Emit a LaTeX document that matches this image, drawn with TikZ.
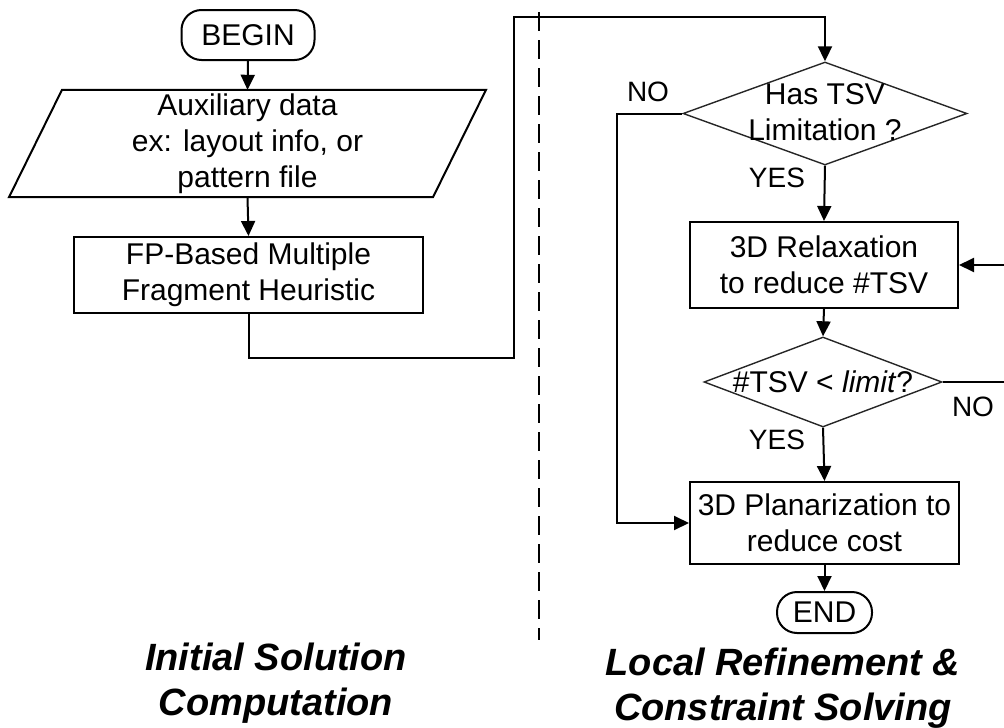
\documentclass[tikz,border=0pt]{standalone}
\usepackage{fontspec}
\setmainfont{Liberation Sans}
\usetikzlibrary{arrows.meta,shapes.geometric}

\tikzset{
  flow/.style={line width=2pt, draw=black},
  arrow/.style={flow, -{Triangle[length=15pt,width=14pt]}},
  txt/.style={font=\fontsize{30}{36}\selectfont, align=center, inner sep=0pt},
  tag/.style={font=\fontsize{28}{32}\selectfont, inner sep=0pt},
  procbox/.style={rectangle, flow, txt},
  terminal/.style={rectangle, rounded corners=20pt, flow, txt},
  decision/.style={diamond, line width=1.4pt, draw=black!85, inner sep=0pt},
  title/.style={font=\fontsize{38}{45}\selectfont\bfseries\itshape, align=center, inner sep=0pt},
  divider/.style={line width=2pt, dash pattern=on 19pt off 9pt}
}

\begin{document}
\begin{tikzpicture}[x=1pt, y=-1pt]
\useasboundingbox (0,0) rectangle (1004,728);

% ---- left column: initial solution ----
\node[terminal, minimum width=133pt, minimum height=50pt] (begin) at (248,35) {BEGIN};

\node[txt, minimum width=424pt, minimum height=107pt] (aux) at (247.5,143.5)
  {Auxiliary data\\ex: layout info, or\\pattern file};
\draw[flow] ([xshift=-238.5pt]aux.south) -- ([xshift=-185.5pt]aux.north)
  -- ([xshift=238.5pt]aux.north) -- ([xshift=185.5pt]aux.south) -- cycle;

\node[procbox, minimum width=349pt, minimum height=76pt] (fp) at (248.5,275)
  {FP-Based Multiple\\Fragment Heuristic};

% ---- separator between the two phases ----
\coordinate (divtop) at (539,12);
\coordinate (divbot) at (539,640);
\draw[divider] (divtop) -- (divbot);

% ---- right column: refinement ----
\node[decision, minimum width=284pt, minimum height=103pt] (d1) at (825,113.5) {};
\node[txt] (d1text) at (825,112) {Has TSV\\Limitation ?};

\node[procbox, minimum width=268pt, minimum height=86pt] (relax) at (824,265)
  {3D Relaxation\\to reduce \#TSV};

\node[decision, minimum width=238pt, minimum height=90pt] (d2) at (823,382) {};
\node[txt] (d2text) at (823,382) {\#TSV < \textit{limit}?};

\node[procbox, minimum width=269pt, minimum height=82pt] (plan) at (824.5,523)
  {3D Planarization to\\reduce cost};

\node[terminal, minimum width=95pt, minimum height=41pt] (end) at (824.5,612.5) {END};

% ---- branch labels ----
\node[tag] (no1) at (648,92) {NO};
\node[tag] (yes1) at (777,178) {YES};
\node[tag] (no2) at (973,407) {NO};
\node[tag] (yes2) at (777,440) {YES};

% ---- phase titles ----
\node[title] (t1) at (276,683.5) {Initial Solution\\Computation};
\node[title] (t2) at (783,688.5) {Local Refinement \&\\Constraint Solving};

% ---- connectors ----
\coordinate (j1) at (514,358);
\coordinate (j2) at (514,17);
\coordinate (nobend) at (617,113.5);
\coordinate (fb) at (1012,382);

\draw[arrow] (begin.south) -- (aux.north);
\draw[arrow] (aux.south) -- (fp.north);
\draw[arrow] (fp.south) |- (j1) -- (j2) -| (d1.north);
\draw[arrow] (d1.south) -- (relax.north);
\draw[arrow] (d1.west) -- (nobend) |- (plan.west);
\draw[arrow] (relax.south) -- (d2.north);
\draw[arrow] (d2.east) -- (fb) |- (relax.east);
\draw[arrow] (d2.south) -- (plan.north);
\draw[arrow] (plan.south) -- (end.north);
\end{tikzpicture}
\end{document}
